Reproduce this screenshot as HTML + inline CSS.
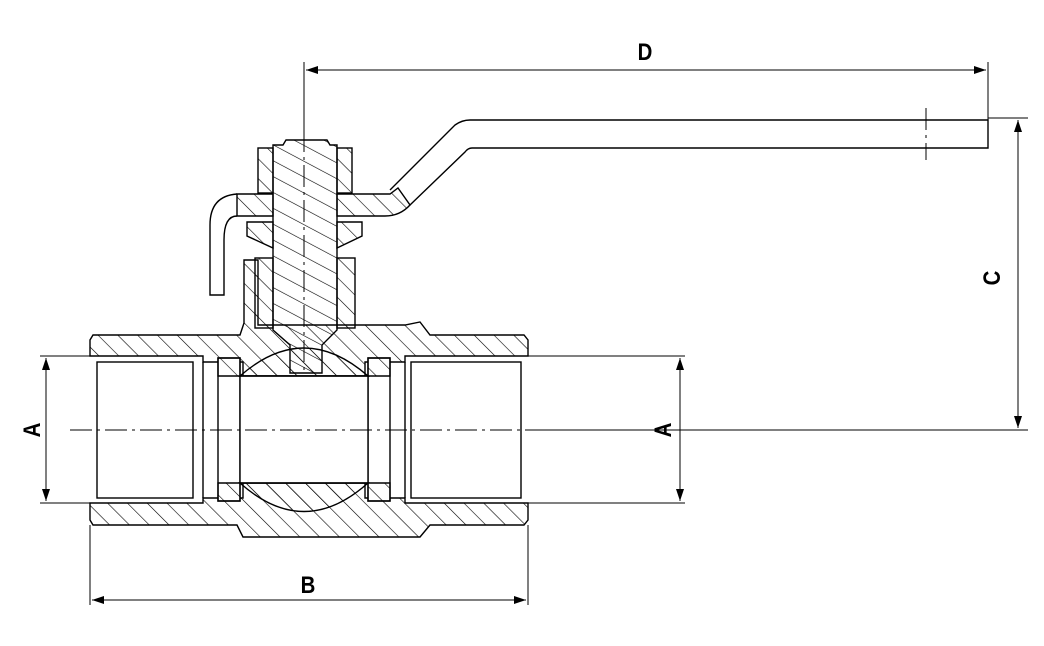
<!DOCTYPE html>
<html><head><style>html,body{margin:0;padding:0;background:#fff}svg{display:block}</style></head>
<body>
<svg width="1044" height="646" viewBox="0 0 1044 646" xmlns="http://www.w3.org/2000/svg" font-family="Liberation Sans, sans-serif">
<defs>
<pattern id="h" patternUnits="userSpaceOnUse" width="14" height="14" patternTransform="rotate(-45)">
<line x1="0" y1="0" x2="0" y2="14" stroke="#000" stroke-width="1.2"/></pattern>
<pattern id="h2" patternUnits="userSpaceOnUse" width="14" height="14" patternTransform="rotate(-62)">
<line x1="0" y1="0" x2="0" y2="14" stroke="#000" stroke-width="1.2"/></pattern>
<marker id="a" markerWidth="12" markerHeight="8" refX="12" refY="4" orient="auto-start-reverse" markerUnits="userSpaceOnUse"><path d="M0,0 L12,4 L0,8 z" fill="#000"/></marker>
</defs>
<g fill="none" stroke="#000" stroke-width="1.4">
<path fill="url(#h)" d="M93,335 L240,335 L244,323 L244,260 L258,260 L258,325 L365,325 L365,325 L405,325 L420,322 L430,335 L524,335 L528,340 L528,356 L405,356 L405,362 L365,362 L365,376 L243,376 L243,362 L203,362 L203,356 L90,356 L90,340 Z"/>
<path fill="url(#h)" d="M90,503 L203,503 L203,498 L243,498 L243,483 L365,483 L365,498 L405,498 L405,503 L528,503 L528,520 L524,525 L430,525 L420,537 L243,537 L237,525 L93,525 L90,520 Z"/>
<rect x="97" y="362" width="96" height="136" fill="#fff"/>
<rect x="411" y="362" width="110" height="136" fill="#fff"/>
<rect x="218" y="358" width="22" height="143" fill="#fff"/>
<rect x="368" y="358" width="22" height="143" fill="#fff"/>
<rect x="240" y="376" width="128" height="107" fill="#fff"/>
<path fill="url(#h)" d="M218,358 L240,358 L240,376 L218,376 Z M218,483 L240,483 L240,501 L218,501 Z M368,358 L390,358 L390,376 L368,376 Z M368,483 L390,483 L390,501 L368,501 Z"/>
<path fill="url(#h)" d="M240,376 Q304,320 368,376 Z"/>
<path fill="url(#h)" d="M240,483 Q304,540 368,483 Z"/>
<line x1="203" y1="362" x2="203" y2="498"/>
<line x1="405" y1="362" x2="405" y2="498"/>
<path fill="url(#h2)" d="M283,145 L286,140 L327,140 L330,145 L337,145 L337,330 L322,345 L322,373 L290,373 L290,345 L273,330 L273,145 Z"/>
<rect x="258" y="148" width="15" height="45" fill="url(#h)"/>
<rect x="337" y="148" width="15" height="45" fill="url(#h)"/>
<path fill="url(#h)" d="M237,194 L273,194 L273,216 L237,216 Z"/>
<path fill="url(#h)" d="M337,194 L390,194 L398,188 L410,205 Q400,216 385,216 L337,216 Z"/>
<path d="M390,190 L455,125 Q462,120 470,120 L988,120 L988,148 L472,148 Q468,148 465,152 L410,205"/>
<path d="M237,194 Q210,196 210,225 L210,295 L224,295 L224,240 Q224,216 237,216"/>
<path fill="url(#h)" d="M247,222 L273,222 L273,248 L247,236 Z M337,222 L362,222 L362,236 L337,248 Z"/>
<rect x="255" y="258" width="18" height="70" fill="url(#h)"/>
<rect x="337" y="258" width="18" height="70" fill="url(#h)"/>
</g>
<g stroke="#000" stroke-width="1" stroke-dasharray="22,5,3,5" fill="none">
<line x1="70" y1="430" x2="1020" y2="430"/>
<line x1="304" y1="130" x2="304" y2="370"/>
<line x1="926" y1="108" x2="926" y2="160"/>
</g>
<g stroke="#000" stroke-width="1" fill="none">
<line x1="304" y1="62" x2="304" y2="140"/>
<line x1="988" y1="62" x2="988" y2="120"/>
<line x1="306" y1="70" x2="986" y2="70" marker-start="url(#a)" marker-end="url(#a)"/>
<line x1="988" y1="118" x2="1028" y2="118"/>
<line x1="528" y1="430" x2="1028" y2="430"/>
<line x1="1018" y1="120" x2="1018" y2="428" marker-start="url(#a)" marker-end="url(#a)"/>
<line x1="40" y1="356" x2="90" y2="356"/><line x1="40" y1="503" x2="90" y2="503"/>
<line x1="46" y1="358" x2="46" y2="501" marker-start="url(#a)" marker-end="url(#a)"/>
<line x1="528" y1="356" x2="685" y2="356"/><line x1="528" y1="503" x2="685" y2="503"/>
<line x1="680" y1="358" x2="680" y2="501" marker-start="url(#a)" marker-end="url(#a)"/>
<line x1="90" y1="525" x2="90" y2="605"/><line x1="528" y1="525" x2="528" y2="605"/>
<line x1="92" y1="600" x2="526" y2="600" marker-start="url(#a)" marker-end="url(#a)"/>
</g>
<g font-weight="bold" font-size="24" text-anchor="middle">
<text x="645" y="60" transform="translate(645,0) scale(0.85,1) translate(-645,0)">D</text>
<text x="308" y="593" transform="translate(308,0) scale(0.85,1) translate(-308,0)">B</text>
<text transform="translate(1000,278) rotate(-90) scale(0.85,1)">C</text>
<text transform="translate(40,430) rotate(-90) scale(0.85,1)">A</text>
<text transform="translate(671,430) rotate(-90) scale(0.85,1)">A</text>
</g>
</svg>
</body></html>
